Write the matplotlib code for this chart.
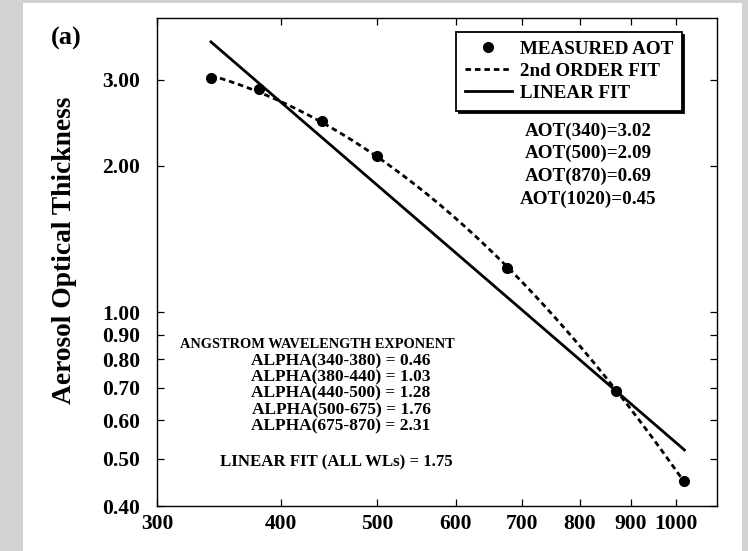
import numpy as np
import matplotlib
matplotlib.use('Agg')
import matplotlib.pyplot as plt
from matplotlib.patches import Rectangle
from matplotlib.ticker import NullLocator

plt.rcParams['font.family'] = ['Liberation Serif', 'DejaVu Serif']
plt.rcParams['font.weight'] = 'bold'

# measured aerosol optical thickness
wavelength = [340, 380, 440, 500, 675, 870, 1020]
aot = [3.02, 2.87, 2.47, 2.09, 1.23, 0.69, 0.45]

x_ticks = [300, 400, 500, 600, 700, 800, 900, 1000]
y_ticks = [0.40, 0.50, 0.60, 0.70, 0.80, 0.90, 1.00, 2.00, 3.00]

aot_lines = ['AOT(340)=3.02', 'AOT(500)=2.09', 'AOT(870)=0.69', 'AOT(1020)=0.45']
alpha_title = 'ANGSTROM WAVELENGTH EXPONENT'
alpha_lines = ['ALPHA(340-380) = 0.46', 'ALPHA(380-440) = 1.03', 'ALPHA(440-500) = 1.28',
               'ALPHA(500-675) = 1.76', 'ALPHA(675-870) = 2.31']
linear_note = 'LINEAR FIT (ALL WLs) = 1.75'

W, H = 748, 551
fig = plt.figure(figsize=(W / 100, H / 100), dpi=100)
fig.patch.set_facecolor('#d2d2d2')
# white page on the grey slide
fig.add_artist(Rectangle((23 / W, 0), (742 - 23) / W, 1 - 3 / H, transform=fig.transFigure,
                         facecolor='white', edgecolor='none', zorder=0))

ax = fig.add_axes([157 / W, 1 - 506 / H, 560 / W, 488 / H])
ax.set_xscale('log')
ax.set_yscale('log')
ax.set_xlim(300, 1100)
ax.set_ylim(0.40, 4.02)

# fits in log-log space
lx = np.log(wavelength)
ly = np.log(aot)
x_fit = np.geomspace(wavelength[0], wavelength[-1], 200)
p1 = np.polyfit(lx, ly, 1)
p2 = np.polyfit(lx, ly, 2)

ax.plot(wavelength, aot, 'o', color='black', markersize=7, label='MEASURED AOT', zorder=5)
ax.plot(x_fit, np.exp(np.polyval(p2, np.log(x_fit))), color='black', lw=2.0,
        linestyle=(0, (2.0, 1.4)), label='2nd ORDER FIT')
ax.plot(x_fit, np.exp(np.polyval(p1, np.log(x_fit))), color='black', lw=2.0, label='LINEAR FIT')

ax.xaxis.set_minor_locator(NullLocator())
ax.yaxis.set_minor_locator(NullLocator())
ax.set_xticks(x_ticks)
ax.set_xticklabels([str(t) for t in x_ticks])
ax.set_yticks(y_ticks)
ax.set_yticklabels(['%.2f' % t for t in y_ticks])
ax.tick_params(which='both', direction='in', length=5, width=0.9, top=True, right=True,
               labelsize=15.5)
ax.tick_params(axis='x', pad=6)
ax.tick_params(axis='y', pad=12)
for s in ax.spines.values():
    s.set_linewidth(1.0)

leg = ax.legend(loc='upper left', bbox_to_anchor=(456 / W, 1 - 32 / H), bbox_transform=fig.transFigure,
                borderaxespad=0, fontsize=13.7, numpoints=1, handlelength=2.5, handletextpad=0.4,
                labelspacing=0.25, borderpad=0.45, fancybox=False, framealpha=1,
                edgecolor='black', shadow={'color': 'black', 'alpha': 1})
leg.get_frame().set_linewidth(1.3)

for i, s in enumerate(aot_lines):
    fig.text(588 / W, 1 - (131 + 22.7 * i) / H, s, ha='center', va='center', fontsize=13.7)

fig.text(317 / W, 1 - 345 / H, alpha_title, ha='center', va='center', fontsize=10.4)
for i, s in enumerate(alpha_lines):
    fig.text(341 / W, 1 - (361 + 16.3 * i) / H, s, ha='center', va='center', fontsize=12.5)
fig.text(336 / W, 1 - 462 / H, linear_note, ha='center', va='center', fontsize=12.1)

fig.text(65 / W, 1 - 250 / H, 'Aerosol Optical Thickness', rotation=90, ha='center', va='center',
         fontsize=19.8)
fig.text(66 / W, 1 - 38 / H, '(a)', ha='center', va='center', fontsize=19)

fig.savefig('out.png', dpi=100)
